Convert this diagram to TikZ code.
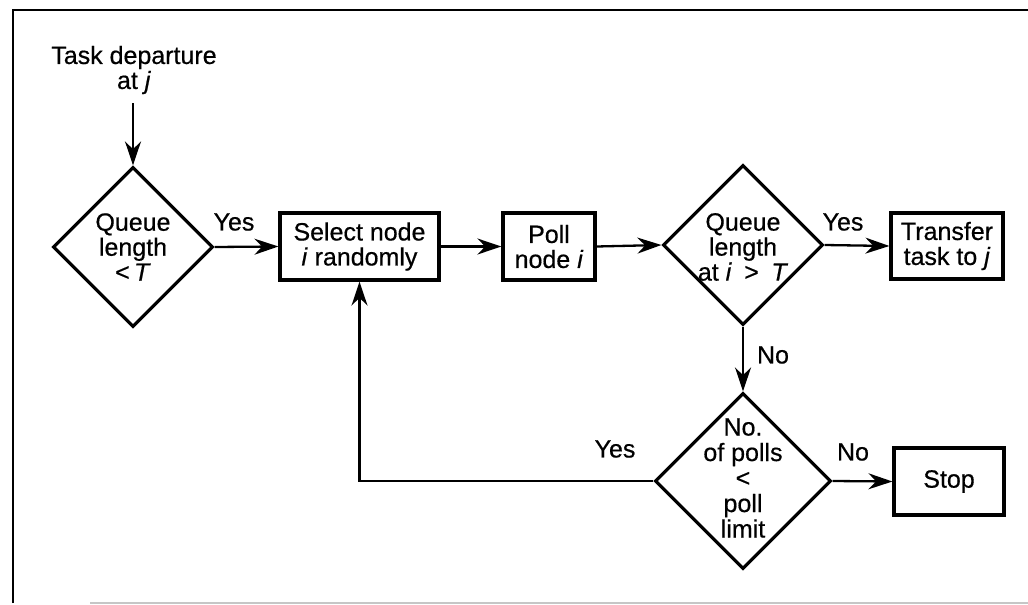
\documentclass[tikz,border=0pt]{standalone}
\usepackage{fontspec}
\setmainfont[FakeBold=0.5]{Liberation Sans}
\usetikzlibrary{shapes.geometric,arrows.meta}
\begin{document}
\begin{tikzpicture}[x=1pt,y=-1pt,
  every node/.style={font=\fontsize{25}{25}\selectfont},
  box/.style={draw, line width=3.2pt, inner sep=0pt, align=center},
  dia/.style={draw, diamond, line width=3.2pt, inner sep=0pt, aspect=1},
  lab/.style={align=center, inner sep=0pt},
  arr/.style={line width=2.3pt, -{Stealth[length=24pt,width=16pt]}},
  frame/.style={line width=2.4pt},
  ]
\useasboundingbox (0,0) rectangle (1028,605);
% frame
\coordinate (fbl) at (13,603);
\coordinate (ftl) at (13,10);
\coordinate (ftr) at (1030,10);
\coordinate (fb1) at (90,603);
\coordinate (fb2) at (1030,603);
\draw[frame] (fbl) -- (ftl) -- (ftr);
\draw[frame, gray!45] (fb1) -- (fb2);

% start text
\node[lab] (start) at (134,70) {Task departure\\at \textit{j}};
\coordinate (s0) at (133,103);

% diamonds
\node[dia, minimum width=160pt, minimum height=160pt] (d1) at (133,247) {};
\node[lab] (t1) at (133,247) {Queue\\length\\{<}\,\textit{T}};

\node[dia, minimum width=160pt, minimum height=160pt] (d2) at (743,245) {};
\node[lab] (t2) at (743,247) {Queue\\length\\at \textit{i}\enspace{>}\enspace\textit{T}};

\node[dia, minimum width=176pt, minimum height=176pt] (d3) at (743,481) {};
\node[lab, font=\fontsize{25}{25.5}\selectfont] (t3) at (743,478) {No.\\of polls\\{<}\\poll\\limit};

% boxes
\node[box, minimum width=159pt, minimum height=67pt] (b1) at (359.5,246.5) {Select node\\\textit{i} randomly};
\node[box, minimum width=92pt, minimum height=67pt] (b2) at (549,246.5) {Poll\\node \textit{i}};
\node[box, minimum width=112pt, minimum height=66pt] (b3) at (947,246) {Transfer\\task to \textit{j}};
\node[box, minimum width=110pt, minimum height=67pt] (b4) at (949,481.5) {Stop};

% connectors
\draw[arr] (s0) -- (d1.north);
\draw[arr] (d1.east) -- (b1.west);
\draw[arr] (b1.east) -- (b2.west);
\draw[arr] (b2.east) -- (d2.west);
\draw[arr] (d2.east) -- (b3.west);
\draw[arr] (d2.south) -- (d3.north);
\draw[arr] (d3.east) -- (b4.west);
\draw[arr] (d3.west) -| (b1.south);

% labels
\node[lab] (y1) at (234,222) {Yes};
\node[lab] (y2) at (843,222) {Yes};
\node[lab] (n1) at (773,355) {No};
\node[lab] (y3) at (615,449) {Yes};
\node[lab] (n2) at (853,452) {No};
\end{tikzpicture}
\end{document}
